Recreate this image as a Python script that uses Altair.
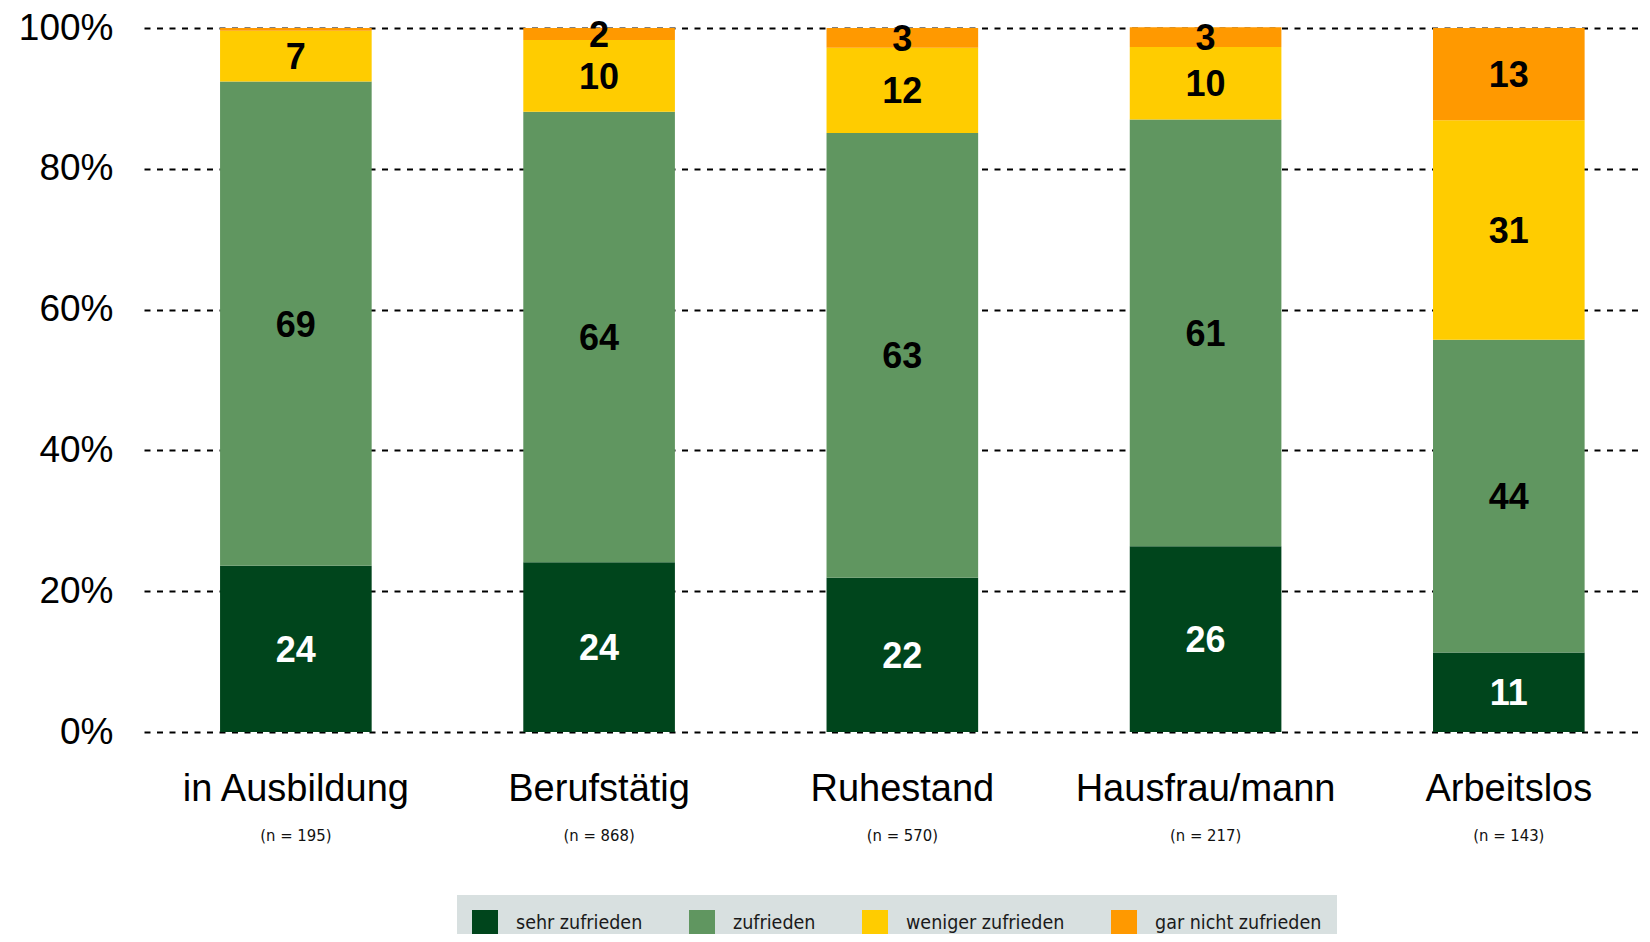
import altair as alt
import pandas as pd

categories = ["in Ausbildung", "Berufstätig", "Ruhestand", "Hausfrau/mann", "Arbeitslos"]
sample_sizes = ["(n = 195)", "(n = 868)", "(n = 570)", "(n = 217)", "(n = 143)"]
levels = ["sehr zufrieden", "zufrieden", "weniger zufrieden", "gar nicht zufrieden"]
colors = ["#00451c", "#609660", "#ffcc00", "#ff9900"]

sehr_zufrieden = [23.6, 24.1, 21.9, 26.4, 11.3]
zufrieden = [68.8, 64.0, 63.2, 60.6, 44.4]
weniger_zufrieden = [7.2, 10.2, 12.1, 10.3, 31.2]
gar_nicht_zufrieden = [0.4, 1.7, 2.8, 2.8, 13.1]

y_ticks = [0, 20, 40, 60, 80, 100]

series = [sehr_zufrieden, zufrieden, weniger_zufrieden, gar_nicht_zufrieden]
rows = []
for i, cat in enumerate(categories):
    for j, lev in enumerate(levels):
        v = series[j][i]
        rows.append({"cat": cat, "level": lev, "order": j, "value": v,
                     "label": str(int(round(v)))})
df = pd.DataFrame(rows)
ndf = pd.DataFrame({"cat": categories, "n": sample_sizes})

NARROW = "DejaVu Sans Condensed, sans-serif"
SANS = "Liberation Sans, Arial, sans-serif"

x_enc = alt.X(
    "cat:N", sort=categories, title=None,
    scale=alt.Scale(paddingInner=0.5, paddingOuter=0.22, align=0.57),
    axis=alt.Axis(labelFontSize=38, labelFont=SANS, labelColor="black",
                  labelPadding=68, labelBaseline="alphabetic", ticks=False,
                  tickSize=0, domain=False, labelAngle=0, grid=False,
                  labelLimit=400),
)

base = alt.Chart(df).transform_stack(
    stack="value", groupby=["cat"], as_=["v0", "v1"],
    sort=[alt.SortField("order", order="ascending")],
).transform_calculate(mid="(datum.v0 + datum.v1) / 2")

bars = base.mark_bar().encode(
    x=x_enc,
    y=alt.Y("v0:Q", title=None,
            scale=alt.Scale(domain=[0, 100], nice=False, zero=True),
            axis=alt.Axis(values=y_ticks, labelExpr="datum.value + '%'",
                          labelFontSize=37, labelFont=SANS, labelColor="black",
                          labelPadding=31, ticks=False, tickSize=0, domain=False,
                          grid=True, gridColor="black", gridWidth=2,
                          gridDash=[6, 6.5])),
    y2="v1:Q",
    color=alt.Color("level:N", scale=alt.Scale(domain=levels, range=colors),
                    legend=alt.Legend(
                        title=None, orient="none", legendX=313, legendY=867,
                        direction="horizontal", columns=4, fillColor="#d8e0e0",
                        padding=15, symbolType="square", symbolSize=676,
                        symbolStrokeWidth=0, symbolOpacity=1,
                        labelFont=NARROW, labelFontSize=19.5, labelColor="#1a1a1a",
                        labelOffset=18, columnPadding=46, labelLimit=400)),
)

labels = base.transform_filter("datum.value >= 1").mark_text(
    font=SANS, fontWeight="bold", fontSize=36, baseline="middle", align="center",
    dy=2,
).encode(
    x=alt.X("cat:N", sort=categories),
    y=alt.Y("mid:Q"),
    text="label:N",
    color=alt.condition("datum.order == 0", alt.value("white"), alt.value("black")),
)

nlabels = alt.Chart(ndf).mark_text(
    font=NARROW, fontSize=16.5, baseline="alphabetic", align="center", color="#111111"
).encode(
    x=alt.X("cat:N", sort=categories),
    y=alt.value(813),
    text="n:N",
)

chart = alt.layer(bars, labels, nlabels).properties(
    width=1498, height=704,
    padding={"left": 136, "top": 20, "right": 0, "bottom": 202},
    autosize=alt.AutoSizeParams(type="none"),
).configure_view(stroke=None)

chart.save("out.html", embed_options={"renderer": "svg", "actions": False})
